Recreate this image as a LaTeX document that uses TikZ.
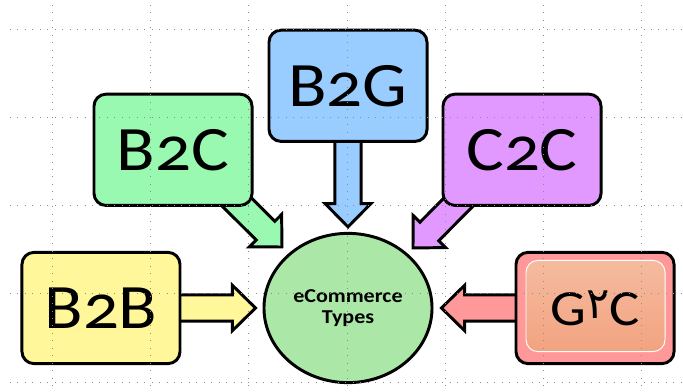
\documentclass[tikz,border=0pt]{standalone}
\usepackage{fontspec}
\usetikzlibrary{positioning, calc, shapes.geometric, backgrounds}
\newfontfamily\boxfont[Numbers = OldStyle, FakeStretch = 1.12]{Carlito}
\newfontfamily\arabicfont[Script = Arabic]{DejaVu Sans}
\definecolor{b2gfill}{HTML}{99CCFF}
\definecolor{b2cfill}{HTML}{99F9B0}
\definecolor{c2cfill}{HTML}{E199FF}
\definecolor{b2bfill}{HTML}{FFF799}
\definecolor{g2cfill}{HTML}{FF9999}
\definecolor{g2ctop}{HTML}{F5BDA2}
\definecolor{g2cbottom}{HTML}{F2A07C}
\definecolor{ecfill}{HTML}{ABE7A7}
\tikzset{
typebox/.style = {rectangle, draw, line width = 2.1pt, rounded corners = 0.3cm,
   minimum width = 3.95cm, minimum height = 2.78cm, align = center,
   font = \boxfont\fontsize{45}{50}\selectfont},
centre/.style = {ellipse, draw, line width = 2.1pt, fill = ecfill, minimum width = 4.18cm,
   minimum height = 3.73cm, align = center, font = \boxfont\bfseries\fontsize{14}{14.5}\selectfont},
typearrow/.style = {draw, line width = 2.1pt, line join = miter},
gridline/.style = {black!45, line width = 0.6pt, dash pattern = on 0.7pt off 4.6pt}
}
% block arrow from #1 to tip #2, filled with #3
\newcommand{\typearrow}[3]{%
  \coordinate (#2h) at ($(#2)!0.58cm!(#1)$);
  \draw [typearrow, fill = #3]
    ($(#1)!0.33cm!90:(#2)$) -- ($(#2h)!0.33cm!90:(#2)$) -- ($(#2h)!0.57cm!90:(#2)$)
    -- (#2) -- ($(#2h)!0.57cm!-90:(#2)$) -- ($(#2h)!0.33cm!-90:(#2)$)
    -- ($(#1)!0.33cm!-90:(#2)$) -- cycle;
}

\begin{document}
\begin{tikzpicture}[x = 0.025cm, y = -0.025cm]
\useasboundingbox (0,0) rectangle (683,392);

%% Centre
\node [centre] (EC) at (348,308) {eCommerce\\Types};

%% Types
\node [typebox, fill = b2gfill] (B2G) [above = 2.225cm of EC] {B2G};
\node [typebox, fill = b2cfill] (B2C) [left = 0.35cm of B2G, yshift = -1.6cm] {B2C};
\node [typebox, fill = c2cfill] (C2C) [right = 0.325cm of B2G, yshift = -1.6cm] {C2C};
\node [typebox, fill = b2bfill] (B2B) [left = 2.025cm of EC] {B2B};
\node [typebox, fill = g2cfill, font = \boxfont\fontsize{36}{40}\selectfont,
   path picture = {\draw [white, line width = 0.7pt, top color = g2ctop, bottom color = g2cbottom]
   ($(path picture bounding box.north west)+(10,8)$) rectangle ($(path picture bounding box.south east)+(-9,-12)$);}]
   (G2C) [right = 2.025cm of EC] {G\raisebox{5pt}{\arabicfont\fontsize{31}{31}\selectfont ٢}C};

%% Arrow ends
\coordinate (tB2G) at ($(EC.north)+(0,-5)$);
\coordinate (tB2B) at ($(EC.west)+(-7,0)$);
\coordinate (tG2C) at ($(EC.east)+(8,0)$);
\coordinate (sB2C) at ($(B2C.south east)+(-32,-20)$);
\coordinate (tB2C) at ($(EC.center)+(-66,-61)$);
\coordinate (sC2C) at ($(C2C.south west)+(32,-20)$);
\coordinate (tC2C) at ($(EC.center)+(65,-60)$);

%% Arrows
\begin{scope}[on background layer]
\typearrow{B2G}{tB2G}{b2gfill}
\typearrow{B2B}{tB2B}{b2bfill}
\typearrow{G2C}{tG2C}{g2cfill}
\typearrow{sB2C}{tB2C}{b2cfill}
\typearrow{sC2C}{tC2C}{c2cfill}
\end{scope}

%% Grid
\foreach \gx in {52,150,248,347,445,543,641}
   \draw [gridline] (\gx,5) -- (\gx,392);
\foreach \gy in {29,117,205,293,382}
   \draw [gridline] (10,\gy) -- (683,\gy);

\end{tikzpicture}
\end{document}
